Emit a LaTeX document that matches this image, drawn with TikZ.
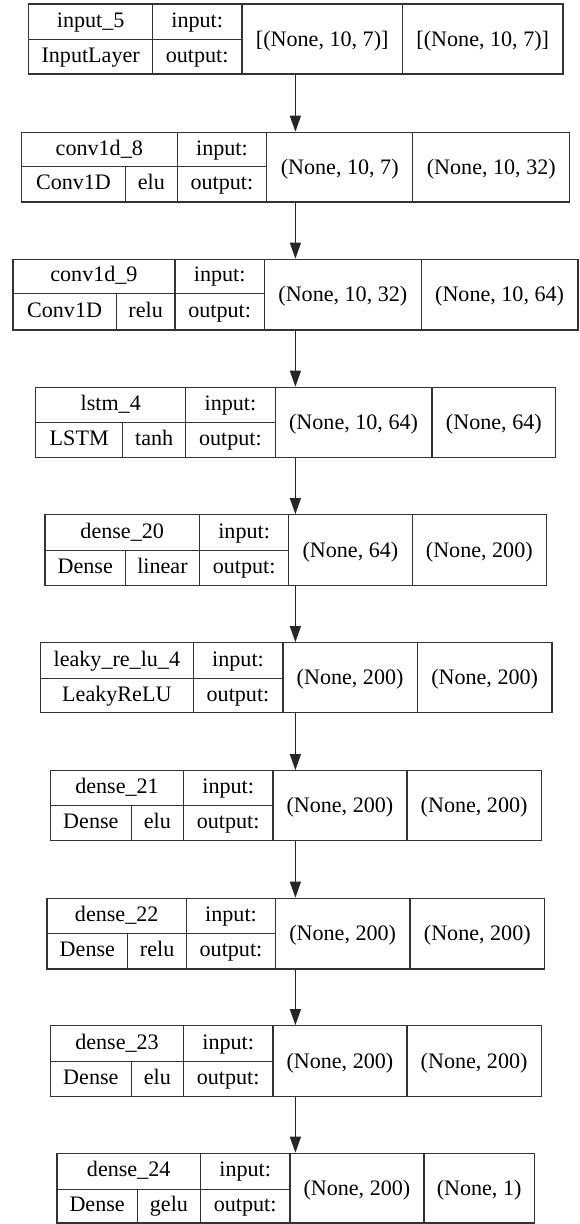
\documentclass[tikz,border=0pt]{standalone}
\usepackage{fontspec}
\setmainfont{Liberation Serif}
\usetikzlibrary{arrows.meta}
\tikzset{
  cell/.style={draw=black!80, line width=1.2pt, inner sep=0pt, text height=16pt, text depth=4.8pt, font=\rmfamily\fontsize{22.1}{26}\selectfont},
  shapecell/.style={cell, text height=18.8pt},
  outer/.style={draw=black!80, line width=1.2pt, inner sep=0pt},
  flow/.style={draw=black!85, line width=1.2pt, -{Triangle[length=16pt,width=11pt]}},
}
\newcommand\rect[7][cell]{%
  \pgfmathsetmacro\rw{(#5)-(#3)}\pgfmathsetmacro\rh{(#6)-(#4)}%
  \node[#1, minimum width=\rw pt, minimum height=\rh pt] (#2) at ({((#3)+(#5))/2},{((#4)+(#6))/2}) {#7};}
\newcommand\geom[9]{\def\Ltop{#1}\def\Lbot{#2}\def\Lmid{#3}\def\La{#4}\def\Lb{#5}\def\Lc{#6}\def\Ld{#7}\def\Le{#8}\def\Lbl{#9}}
\newcommand\layer[6]{%
  \rect[outer]{#1}{\La}{\Ltop}{\Le}{\Lbot}{}
  \rect{#1n}{\La}{\Ltop}{\Lb}{\Lmid}{#2}
  \ifx\relax#4\relax \rect{#1t}{\La}{\Lmid}{\Lb}{\Lbot}{#3}%
  \else \rect{#1t}{\La}{\Lmid}{\Lbl}{\Lbot}{#3}\rect{#1a}{\Lbl}{\Lmid}{\Lb}{\Lbot}{#4}\fi
  \rect{#1i}{\Lb}{\Ltop}{\Lc}{\Lmid}{input:}
  \rect{#1o}{\Lb}{\Lmid}{\Lc}{\Lbot}{output:}
  \rect[shapecell]{#1x}{\Lc}{\Ltop}{\Ld}{\Lbot}{#5}
  \rect[shapecell]{#1y}{\Ld}{\Ltop}{\Le}{\Lbot}{#6}}
\begin{document}
\begin{tikzpicture}[x=1pt,y=-1pt]
\useasboundingbox[fill=white] (0,0) rectangle (579,1224);
\geom{4}{74}{39.3}{28.8}{152.5}{241.9}{402.5}{563}{0}
\layer{L1}{input\_5}{InputLayer}{}{[(None, 10, 7)]}{[(None, 10, 7)]}
\geom{132.3}{202}{166.7}{21.4}{177.2}{266.6}{412.8}{569.8}{125.6}
\layer{L2}{conv1d\_8}{Conv1D}{elu}{(None, 10, 7)}{(None, 10, 32)}
\geom{259.3}{330}{293.3}{12.9}{175}{264.4}{421.3}{577.9}{116.3}
\layer{L3}{conv1d\_9}{Conv1D}{relu}{(None, 10, 32)}{(None, 10, 64)}
\geom{387.3}{457.3}{422.3}{35.8}{185.7}{275.1}{432}{555.7}{122.6}
\layer{L4}{lstm\_4}{LSTM}{tanh}{(None, 10, 64)}{(None, 64)}
\geom{514.7}{585.3}{550.7}{45}{199.4}{288.8}{412.1}{546.5}{125.5}
\layer{L5}{dense\_20}{Dense}{linear}{(None, 64)}{(None, 200)}
\geom{642.7}{712.7}{678.3}{40.6}{193.1}{282.9}{417.3}{552}{0}
\layer{L6}{leaky\_re\_lu\_4}{LeakyReLU}{}{(None, 200)}{(None, 200)}
\geom{770.7}{840.7}{805.7}{50.6}{183.5}{272.9}{406.9}{541.3}{131.1}
\layer{L7}{dense\_21}{Dense}{elu}{(None, 200)}{(None, 200)}
\geom{898.3}{969}{933.3}{46.9}{186.5}{275.5}{409.9}{544.7}{127.8}
\layer{L8}{dense\_22}{Dense}{relu}{(None, 200)}{(None, 200)}
\geom{1025.7}{1096.3}{1061.3}{50.6}{183.5}{272.9}{406.9}{541.3}{131.1}
\layer{L9}{dense\_23}{Dense}{elu}{(None, 200)}{(None, 200)}
\geom{1153.3}{1223}{1189.3}{56.9}{200.5}{289.9}{423.9}{534.3}{137.4}
\layer{L10}{dense\_24}{Dense}{gelu}{(None, 200)}{(None, 1)}
\coordinate (ax) at (295.4,0);
\foreach \p/\q in {L1/L2,L2/L3,L3/L4,L4/L5,L5/L6,L6/L7,L7/L8,L8/L9,L9/L10}
  \draw[flow] (\p.south -| ax) -- (\q.north -| ax);
\end{tikzpicture}
\end{document}
